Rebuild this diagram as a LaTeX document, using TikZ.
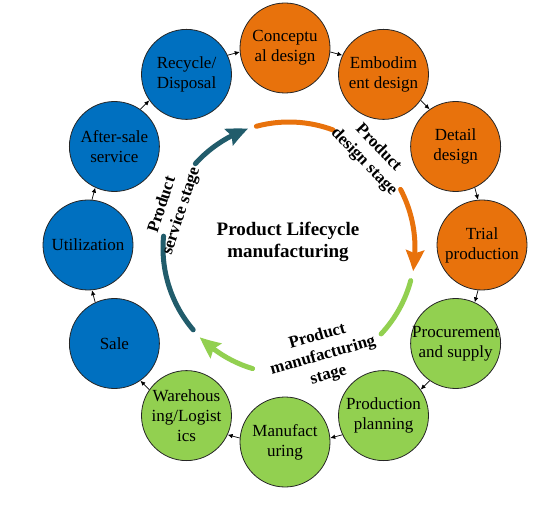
\documentclass[tikz,border=0pt]{standalone}
\usepackage{fontspec}
\setmainfont{Liberation Serif}
\usetikzlibrary{arrows.meta,bending,calc}
\definecolor{cblue}{RGB}{0,112,192}
\definecolor{corange}{RGB}{232,114,12}
\definecolor{cgreen}{RGB}{146,208,80}
\definecolor{cteal}{RGB}{33,92,107}
\begin{document}
\begin{tikzpicture}[x=1pt,y=1pt,
  stagecircle/.style={circle,draw=black!85,line width=0.8pt,minimum size=90pt,inner sep=0pt},
  ctext/.style={align=center,font=\fontsize{17}{20}\selectfont,inner sep=0pt},
  stagetext/.style={align=center,font=\bfseries\fontsize{17}{20}\selectfont,inner sep=0pt},
  conn/.style={line width=0.7pt,-{Latex[length=5pt,width=4.5pt]}},
  ringarc/.style={line width=5pt,line cap=round},
  ringtip/.style={-{Stealth[length=21pt,width=18pt,inset=3pt,bend]}}
]
\useasboundingbox (0,0) rectangle (543,506);
\coordinate (O) at (285,261);
\coordinate (I) at (289,258);

% circles
\node[stagecircle,fill=corange] (n0)  at ($(O)+(90:197)$) {};
\node[stagecircle,fill=corange] (n1)  at ($(O)+(60:197)$) {};
\node[stagecircle,fill=corange] (n2)  at ($(O)+(30:197)$) {};
\node[stagecircle,fill=corange] (n3)  at ($(O)+(0:197)$) {};
\node[stagecircle,fill=cgreen]  (n4)  at ($(O)+(-30:197)$) {};
\node[stagecircle,fill=cgreen]  (n5)  at ($(O)+(-60:197)$) {};
\node[stagecircle,fill=cgreen]  (n6)  at ($(O)+(-90:197)$) {};
\node[stagecircle,fill=cgreen]  (n7)  at ($(O)+(-120:197)$) {};
\node[stagecircle,fill=cblue]   (n8)  at ($(O)+(-150:197)$) {};
\node[stagecircle,fill=cblue]   (n9)  at ($(O)+(180:197)$) {};
\node[stagecircle,fill=cblue]   (n10) at ($(O)+(150:197)$) {};
\node[stagecircle,fill=cblue]   (n11) at ($(O)+(120:197)$) {};

% texts
\node[ctext] (t0)  at (n0)  {Conceptu\\al design};
\node[ctext] (t1)  at (n1)  {Embodim\\ent design};
\node[ctext] (t2)  at (n2)  {Detail\\design};
\node[ctext] (t3)  at (n3)  {Trial\\production};
\node[ctext] (t4)  at (n4)  {Procurement\\and supply};
\node[ctext] (t5)  at (n5)  {Production\\planning};
\node[ctext] (t6)  at (n6)  {Manufact\\uring};
\node[ctext] (t7)  at (n7)  {Warehous\\ing/Logist\\ics};
\node[ctext] (t8)  at (n8)  {Sale};
\node[ctext] (t9)  at (n9)  {Utilization};
\node[ctext] (t10) at (n10) {After-sale\\service};
\node[ctext] (t11) at (n11) {Recycle/\\Disposal};

% connectors
\foreach \i in {0,...,11}{
  \pgfmathtruncatemacro\j{mod(\i+1,12)}
  \pgfmathtruncatemacro\a{mod(715-30*\i,360)}
  \pgfmathtruncatemacro\b{mod(875-30*\i,360)}
  \draw[conn] (n\i.\a) -- (n\j.\b);
}

% inner ring
\draw[ringarc,corange] ($(I)+(105:126)$) arc[start angle=105,end angle=69.5,radius=126];
\draw[ringarc,corange,ringtip] ($(I)+(27.7:126)$) arc[start angle=27.7,end angle=-10.6,radius=126];
\draw[ringarc,cgreen] ($(I)+(-15:126)$) arc[start angle=-15,end angle=-43,radius=126];
\draw[ringarc,cgreen,ringtip] ($(I)+(-106.8:126)$) arc[start angle=-106.8,end angle=-135,radius=126];
\draw[ringarc,cteal] ($(I)+(-139.5:126)$) arc[start angle=-139.5,end angle=-185.4,radius=126];
\draw[ringarc,cteal,ringtip] ($(I)+(138:126)$) arc[start angle=138,end angle=108.9,radius=126];

% stage labels
\node[stagetext,rotate=-46] (s1) at (371,351) {Product\\design stage};
\node[stagetext,rotate=16]  (s2) at (323,150) {Product\\manufacturing\\stage};
\node[stagetext,rotate=72]  (s3) at (172,298) {Product\\service stage};

% title
\node[align=center,font=\bfseries\fontsize{19}{22}\selectfont,inner sep=0pt] (title) at (288,264) {Product Lifecycle\\manufacturing};
\end{tikzpicture}
\end{document}
